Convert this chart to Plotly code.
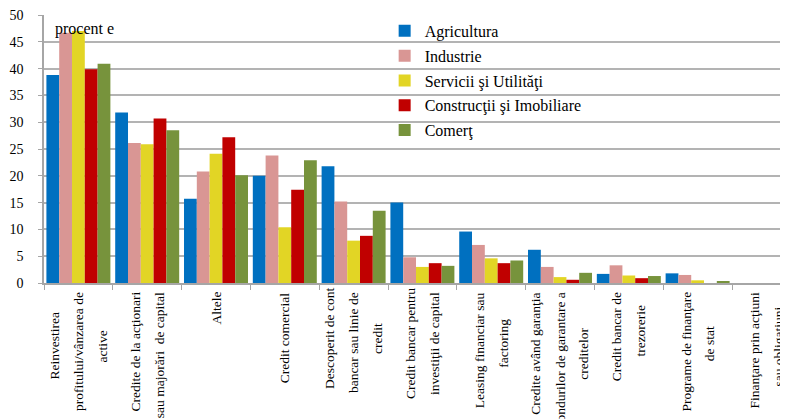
import plotly.graph_objects as go

categories = [
    "Reinvestirea<br>profitului/vânzarea de<br>active",
    "Credite de la acţionari<br>sau majorări  de capital",
    "Altele",
    "Credit comercial",
    "Descoperit de cont<br>bancar sau linie de<br>credit",
    "Credit bancar pentru<br>investiţii de capital",
    "Leasing financiar sau<br>factoring",
    "Credite având garanţia<br>fondurilor de garantare a<br>creditelor",
    "Credit bancar de<br>trezorerie",
    "Programe de finanţare<br>de stat",
    "Finanţare prin acţiuni<br>sau obligaţiuni",
]

series_names = [
    "Agricultura",
    "Industrie",
    "Servicii şi Utilităţi",
    "Construcţii şi Imobiliare",
    "Comerţ",
]

agricultura = [38.8, 31.8, 15.7, 20.0, 21.8, 15.0, 9.6, 6.2, 1.7, 1.8, 0.0]
industrie = [46.7, 26.1, 20.8, 23.8, 15.2, 4.8, 7.1, 3.0, 3.3, 1.5, 0.0]
servicii = [47.0, 25.9, 24.1, 10.4, 7.9, 3.0, 4.6, 1.1, 1.4, 0.5, 0.0]
constructii = [39.9, 30.7, 27.2, 17.4, 8.8, 3.7, 3.7, 0.6, 0.9, 0.0, 0.0]
comert = [40.9, 28.5, 20.1, 22.9, 13.5, 3.2, 4.2, 1.9, 1.3, 0.3, 0.0]

series_values = [agricultura, industrie, servicii, constructii, comert]
colors = ["#0070C0", "#D99694", "#E2D525", "#C00000", "#77933C"]

y_ticks = [0, 5, 10, 15, 20, 25, 30, 35, 40, 45, 50]
unit_label = "procent e"

SERIF = "Liberation Serif, Times New Roman, serif"
LABEL_SIZE = 13.5
LINE_GAP = 24       # px between label lines
CHAR_W = 5.1        # approx px per char for label font
TOP_PAD = 7         # px between axis and label start

fig = go.Figure()
for name, vals, col in zip(series_names, series_values, colors):
    fig.add_trace(go.Bar(
        x=categories, y=vals, name=name,
        marker=dict(color=col, line=dict(width=0)),
        legendgroup=name,
    ))

# Category labels: rotated, lines centred on each other
for cat in categories:
    lines = cat.split("<br>")
    n = len(lines)
    longest = max(len(s) for s in lines)
    center = TOP_PAD + longest * CHAR_W / 2
    for i, line in enumerate(lines):
        is_longest = len(line) == longest
        fig.add_annotation(
            x=cat, xref="x", y=0, yref="paper",
            text=line, textangle=-90, showarrow=False,
            xanchor="center",
            yanchor="top" if is_longest else "middle",
            yshift=-TOP_PAD if is_longest else -center,
            xshift=(i - (n - 1) / 2) * LINE_GAP,
            font=dict(family=SERIF, size=LABEL_SIZE, color="#000000"),
        )

fig.add_annotation(
    x=0.012, xref="paper", y=47.3, yref="y", text=unit_label,
    showarrow=False, xanchor="left", yanchor="middle",
    font=dict(family=SERIF, size=16, color="#000000"),
)

fig.update_layout(
    width=788, height=419,
    margin=dict(l=36, r=0, t=7, b=144),
    paper_bgcolor="white", plot_bgcolor="white",
    barmode="group", bargap=0.07, bargroupgap=0,
    font=dict(family=SERIF, size=13, color="#000000"),
    legend=dict(
        x=0.453, y=1.004, xanchor="left", yanchor="top",
        bgcolor="rgba(0,0,0,0)", traceorder="grouped",
        tracegroupgap=1, itemwidth=30,
        font=dict(family=SERIF, size=16, color="#000000"),
    ),
    showlegend=True,
)

fig.update_xaxes(
    type="category", range=[-0.5, 10.43],
    showticklabels=False, showgrid=False,
    showline=True, linecolor="#A6A6A6", linewidth=1.5,
    ticks="outside", tickson="boundaries", ticklen=5, tickcolor="#A6A6A6",
)
fig.update_yaxes(
    range=[0, 50], tickvals=y_ticks,
    showgrid=True, gridcolor="#B3B3B3", gridwidth=1.5,
    showline=True, linecolor="#A6A6A6", linewidth=1.5,
    ticks="outside", ticklen=4, tickcolor="#A6A6A6",
    ticklabelstandoff=12, ticklabeloverflow="allow",
    tickfont=dict(family=SERIF, size=14, color="#000000"),
    zeroline=False,
)

fig.write_html("out.html")
